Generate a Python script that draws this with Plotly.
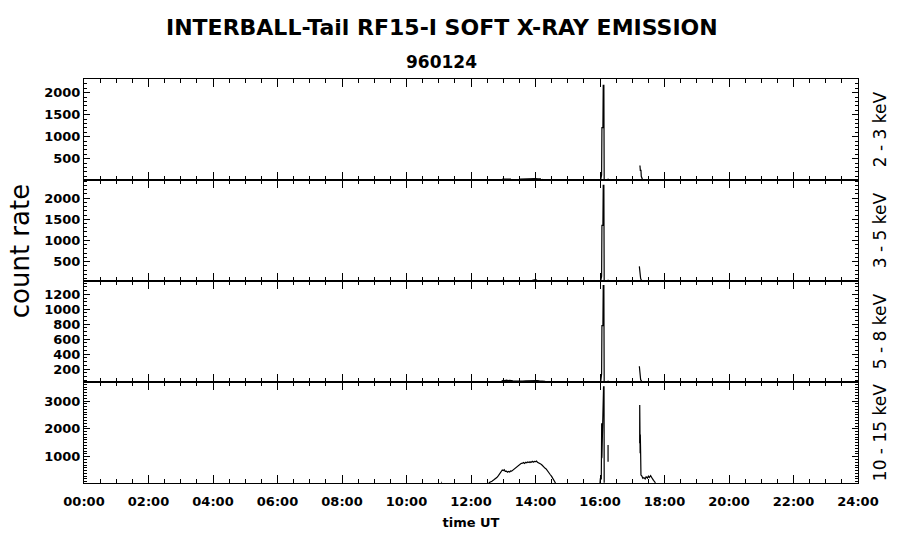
import plotly.graph_objects as go
from plotly.subplots import make_subplots

# ---------------- data (hours UT, count rate) ----------------
N = None
t_23 = [12.97, 13.03, 13.09, 13.15, 13.20, 13.24, N,
        13.52, 13.60, 13.68, 13.76, 13.84, 13.92, 14.00, 14.08, 14.17, N,
        14.22, 14.23, N,
        16.02, 16.03, 16.05, 16.06, 16.09, 16.10, 16.12, 16.13, N,
        16.24, 16.26, N,
        17.22, 17.24, 17.25, 17.27, 17.28, 17.30, 17.32]
v_23 = [35, 38, 36, 40, 37, 36, N,
        38, 42, 40, 45, 41, 44, 46, 42, 40, N,
        30, 32, N,
        16, 130, 130, 1205, 1205, 2168, 2168, 20, N,
        40, 40, N,
        334, 334, 236, 236, 100, 40, 20]

t_35 = [12.97, 13.00, 13.05, 13.12, 13.20, 13.30, 13.40, 13.50, 13.60, 13.70,
        13.80, 13.90, 13.97, 14.00, 14.05, 14.12, 14.20, 14.30, N,
        16.02, 16.03, 16.05, 16.06, 16.09, 16.10, 16.12, 16.13, N,
        16.24, 16.26, N,
        17.22, 17.23, 17.25, 17.26, 17.29]
v_35 = [48, 62, 52, 47, 50, 46, 49, 47, 52, 48,
        50, 55, 66, 70, 58, 50, 48, 45, N,
        40, 150, 150, 1357, 1357, 2302, 2302, 45, N,
        60, 60, N,
        387, 307, 307, 100, 45]

t_58 = [12.95, 13.00, 13.05, 13.10, 13.15, 13.20, 13.30, 13.40, 13.50, 13.60,
        13.70, 13.80, 13.90, 13.95, 14.00, 14.05, 14.12, 14.20, 14.30, N,
        16.02, 16.03, 16.05, 16.06, 16.09, 16.10, 16.12, 16.13, N,
        16.24, 16.26, N,
        17.22, 17.23, 17.25, 17.26, 17.29, 17.35, 17.40, 17.45]
v_58 = [38, 48, 45, 50, 44, 47, 40, 38, 41, 39,
        42, 43, 47, 50, 52, 46, 41, 38, 36, N,
        26, 133, 133, 780, 780, 1315, 1315, 30, N,
        40, 40, N,
        236, 190, 190, 60, 35, 35, 40, 30]

t_1015 = [11.07, 11.09, N,
          12.55, 12.60, 12.65, 12.70, 12.75, 12.80, 12.85, 12.90, 12.94, 12.97,
          13.00, 13.03, 13.06, 13.10, 13.13, 13.16, 13.20, 13.23, 13.26, 13.30,
          13.33, 13.36, 13.40, 13.43, 13.46, 13.50, 13.53, 13.56, 13.60, 13.63,
          13.66, 13.70, 13.73, 13.76, 13.80, 13.83, 13.86, 13.90, 13.93, 13.96,
          14.00, 14.03, 14.06, 14.10, 14.13, 14.16, 14.20, 14.23, 14.26, 14.30,
          14.33, 14.36, 14.40, 14.43, 14.46, 14.50, 14.53, 14.56, 14.59, 14.62, N,
          16.00, 16.01, 16.04, 16.05, 16.052, 16.055, 16.06, 16.08, 16.10, 16.11,
          16.125, 16.13, N,
          16.25, 16.25, N,
          17.23, 17.232, 17.24, 17.245, 17.25, 17.26, 17.27, 17.30, 17.33, 17.36,
          17.40, 17.43, 17.47, 17.50, 17.53, 17.57, 17.60, 17.63, 17.66, 17.70, 17.72]
v_1015 = [80, 80, N,
          60, 80, 120, 160, 200, 250, 320, 390, 440, 520,
          500, 530, 470, 480, 440, 470, 450, 490, 480, 520,
          540, 560, 600, 640, 660, 700, 730, 760, 770, 790,
          760, 800, 780, 810, 790, 820, 790, 830, 800, 830,
          820, 840, 800, 780, 760, 740, 700, 650, 600, 580,
          560, 520, 470, 420, 350, 290, 220, 140, 80, 54, N,
          54, 200, 200, 941, 2199, 941, 1000, 2700, 2700, 3510,
          3510, 60, N,
          1420, 820, N,
          1480, 2860, 2560, 1120, 1800, 1120, 340, 300, 220, 250,
          200, 280, 230, 300, 250, 320, 240, 200, 150, 100, 60]

x_tickvals = [0, 2, 4, 6, 8, 10, 12, 14, 16, 18, 20, 22, 24]
x_ticktext = ["00:00", "02:00", "04:00", "06:00", "08:00", "10:00", "12:00",
              "14:00", "16:00", "18:00", "20:00", "22:00", "24:00"]
band_labels = ["2 - 3 keV", "3 - 5 keV", "5 - 8 keV", "10 - 15 keV"]
y_ranges = [[16, 2311], [40, 2430], [26, 1378], [54, 3683]]
y_dticks = [500, 500, 200, 1000]
y_minor = [100, 100, 50, 100]

series = [(t_23, v_23), (t_35, v_35), (t_58, v_58), (t_1015, v_1015)]

# ---------------- figure ----------------
fig = make_subplots(rows=4, cols=1, shared_xaxes=True, vertical_spacing=0)

for i, (t, v) in enumerate(series):
    fig.add_trace(go.Scatter(x=t, y=v, mode="lines", connectgaps=False,
                             line=dict(color="black", width=1.2),
                             showlegend=False, hoverinfo="skip"),
                  row=i + 1, col=1)

tickfont = dict(family="DejaVu Sans", size=13, color="black", weight="bold")

for i in range(4):
    fig.update_xaxes(range=[0, 24], tickmode="array", tickvals=x_tickvals,
                     ticktext=x_ticktext, ticks="inside", ticklen=8,
                     tickwidth=1, tickcolor="black", showline=True,
                     linecolor="black", linewidth=1, mirror="ticks",
                     showgrid=False, zeroline=False,
                     minor=dict(dtick=0.5, tick0=0, ticks="inside", ticklen=4,
                                tickcolor="black", tickwidth=1, showgrid=False),
                     tickfont=tickfont, row=i + 1, col=1)
    fig.update_yaxes(range=y_ranges[i], dtick=y_dticks[i], tick0=0,
                     ticks="inside", ticklen=6, tickwidth=1, tickcolor="black",
                     showline=True, linecolor="black", linewidth=1,
                     mirror="ticks", showgrid=False, zeroline=False,
                     minor=dict(dtick=y_minor[i], tick0=0, ticks="inside",
                                ticklen=3, tickcolor="black", tickwidth=1,
                                showgrid=False),
                     tickfont=tickfont, row=i + 1, col=1)

fig.update_xaxes(showticklabels=True, ticklabelstandoff=6, row=4, col=1)
fig.update_xaxes(title=dict(text="time UT", standoff=10,
                            font=dict(family="DejaVu Sans", size=13,
                                      color="black", weight="bold")),
                 row=4, col=1)

annotations = []
panel_centers = [0.875, 0.625, 0.375, 0.125]
for lab, yc in zip(band_labels, panel_centers):
    annotations.append(dict(text=lab, xref="paper", yref="paper", x=1.028,
                            y=yc, xanchor="center", yanchor="middle",
                            textangle=-90, showarrow=False,
                            font=dict(family="DejaVu Sans", size=17,
                                      color="black")))
annotations.append(dict(text="count rate", xref="paper", yref="paper",
                        x=-0.083, y=0.573, xanchor="center", yanchor="middle",
                        textangle=-90, showarrow=False,
                        font=dict(family="DejaVu Sans", size=26, color="black")))
annotations.append(dict(text="INTERBALL-Tail RF15-I SOFT X-RAY EMISSION",
                        xref="paper", yref="paper", x=0.4625, y=1.0,
                        yshift=52, xanchor="center", yanchor="middle",
                        showarrow=False,
                        font=dict(family="DejaVu Sans", size=22, color="black",
                                  weight="bold")))
annotations.append(dict(text="960124", xref="paper", yref="paper", x=0.4625,
                        y=1.0, yshift=17, xanchor="center", yanchor="middle",
                        showarrow=False,
                        font=dict(family="DejaVu Sans", size=17, color="black",
                                  weight="bold")))

fig.update_layout(width=900, height=548, plot_bgcolor="white",
                  paper_bgcolor="white",
                  margin=dict(l=84, r=42, t=79, b=65),
                  annotations=annotations, showlegend=False)

# remove the default 8px page margin so the figure fills the window exactly
fig.write_html("out.html",
               config={"displayModeBar": False},
               post_script="document.body.style.margin='0px';"
                           "document.body.style.overflow='hidden';")
